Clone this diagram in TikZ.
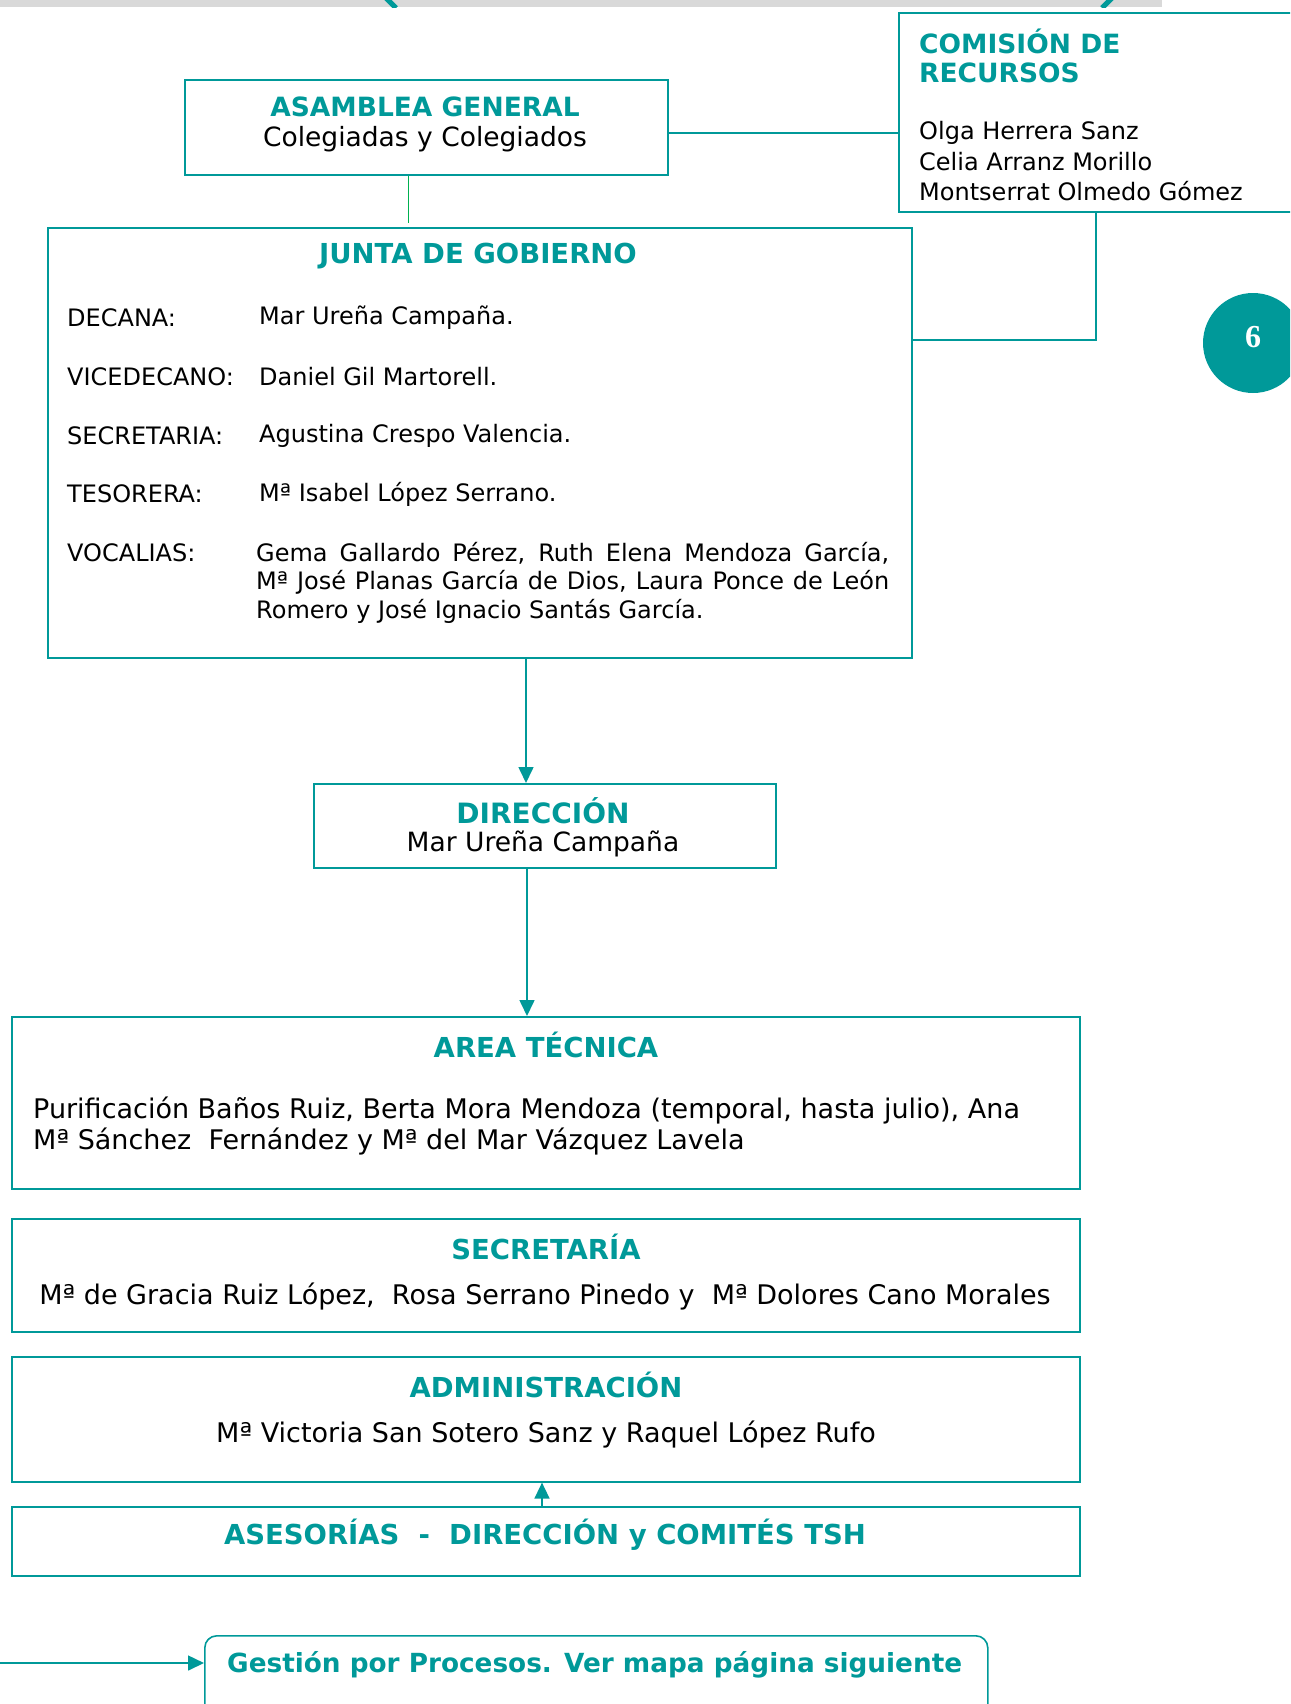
\documentclass[tikz,border=0pt]{standalone}
\usepackage{fontspec}
\setmainfont{DejaVu Sans}
\newfontfamily\numfont{Liberation Serif}
\usetikzlibrary{arrows.meta}
\definecolor{tealc}{RGB}{0,153,153}
\definecolor{grayb}{RGB}{217,217,217}
\definecolor{greenl}{RGB}{0,176,80}
\begin{document}
\begin{tikzpicture}[x=1pt,y=-1pt,
  box/.style={draw=tealc, line width=1.6pt, anchor=north west, inner sep=0pt},
  ttl/.style={text=tealc, font=\fontsize{26.5}{31}\selectfont\bfseries, inner sep=0pt},
  bttl/.style={text=tealc, font=\fontsize{27.5}{32}\selectfont\bfseries, inner sep=0pt},
  txt/.style={text=black, font=\fontsize{26.5}{31}\selectfont, inner sep=0pt},
  btxt/.style={text=black, font=\fontsize{27}{32}\selectfont, inner sep=0pt},
  stxt/.style={text=black, font=\fontsize{24}{29}\selectfont, inner sep=0pt},
  conn/.style={draw=tealc, line width=1.6pt},
  arr/.style={conn, -{Triangle[length=16pt,width=15pt]}}]
\useasboundingbox (0,0) rectangle (1290,1704);
\clip (0,0) rectangle (1290,1704);

% top decoration
\fill[grayb] (0,0) rectangle (1162,7);
\begin{scope}
\clip (0,0) rectangle (1290,7.5);
\draw[tealc, line width=5pt] (384,-4) -- (396,8);
\draw[tealc, line width=5pt] (1114,-4) -- (1102,8);
\end{scope}

% boxes
\node[box, minimum width=483pt, minimum height=95pt] (asamblea) at (184,79) {};
\node[box, minimum width=420pt, minimum height=199pt] (comision) at (898,12) {};
\node[box, minimum width=864pt, minimum height=430pt] (junta) at (47,227) {};
\node[box, minimum width=462pt, minimum height=84pt] (direccion) at (313,783) {};
\node[box, minimum width=1068pt, minimum height=172pt] (area) at (11,1016) {};
\node[box, minimum width=1068pt, minimum height=113pt] (secre) at (11,1218) {};
\node[box, minimum width=1068pt, minimum height=125pt] (admin) at (11,1356) {};
\node[box, minimum width=1068pt, minimum height=69pt] (asesor) at (11,1506) {};
\node[box, rounded corners=12pt, minimum width=783pt, minimum height=110pt] (gestion) at (204,1635) {};

% circle 6
\node[circle, fill=tealc, minimum size=100pt, inner sep=0pt] (pag) at (1253,343) {};
\node[text=white, font=\numfont\fontsize{32}{36}\selectfont\bfseries, inner sep=0pt] (pagn) at (1253,337) {6};

% texts
\node[ttl] (asaT) at (425,107) {ASAMBLEA GENERAL};
\node[txt] (asaS) at (425,139) {Colegiadas y Colegiados};

\node[ttl, anchor=west] (comT1) at (919,41) {COMISIÓN DE};
\node[ttl, anchor=west] (comT2) at (919,73) {RECURSOS};
\node[stxt, anchor=west] (com1) at (919,133) {Olga Herrera Sanz};
\node[stxt, anchor=west] (com2) at (919,162) {Celia Arranz Morillo};
\node[stxt, anchor=west] (com3) at (919,191) {Montserrat Olmedo Gómez};

\node[bttl] (junT) at (478,256) {JUNTA DE GOBIERNO};
\node[stxt, anchor=west] (l1) at (67,318) {DECANA:};
\node[stxt, anchor=west] (n1) at (259,318) {Mar Ureña Campaña.};
\node[stxt, anchor=west] (l2) at (67,377) {VICEDECANO:};
\node[stxt, anchor=west] (n2) at (259,377) {Daniel Gil Martorell.};
\node[stxt, anchor=west] (l3) at (67,436) {SECRETARIA:};
\node[stxt, anchor=west] (n3) at (259,436) {Agustina Crespo Valencia.};
\node[stxt, anchor=west] (l4) at (67,494) {TESORERA:};
\node[stxt, anchor=west] (n4) at (259,494) {Mª Isabel López Serrano.};
\node[stxt, anchor=west] (l5) at (67,553) {VOCALIAS:};
\node[stxt, anchor=west] (v1) at (256,553) {\makebox[633pt][s]{Gema Gallardo Pérez, Ruth Elena Mendoza García,}};
\node[stxt, anchor=west] (v2) at (256,582) {\makebox[633pt][s]{Mª José Planas García de Dios, Laura Ponce de León}};
\node[stxt, anchor=west] (v3) at (256,611) {Romero y José Ignacio Santás García.};

\node[text=tealc, font=\fontsize{28}{32}\selectfont\bfseries, inner sep=0pt] (dirT) at (543,811) {DIRECCIÓN};
\node[txt] (dirS) at (543,844) {Mar Ureña Campaña};

\node[bttl] (areaT) at (546,1045) {AREA TÉCNICA};
\node[btxt, anchor=west] (area1) at (33,1110) {Purificación Baños Ruiz, Berta Mora Mendoza (temporal, hasta julio), Ana};
\node[btxt, anchor=west] (area2) at (33,1141) {Mª Sánchez\ \ Fernández y Mª del Mar Vázquez Lavela};

\node[bttl] (secT) at (546,1247) {SECRETARÍA};
\node[btxt] (secS) at (545,1296) {Mª de Gracia Ruiz López,\ \ Rosa Serrano Pinedo y\ \ Mª Dolores Cano Morales};

\node[bttl] (admT) at (546,1385) {ADMINISTRACIÓN};
\node[btxt] (admS) at (546,1434) {Mª Victoria San Sotero Sanz y Raquel López Rufo};

\node[bttl] (aseT) at (545,1535) {ASESORÍAS\ \ -\ \ DIRECCIÓN y COMITÉS TSH};

\node[text=tealc, font=\fontsize{26.3}{31}\selectfont\bfseries, inner sep=0pt, anchor=west] (gesT) at (227,1665) {Gestión por Procesos. Ver mapa página siguiente};

% connectors
\draw[conn] ([yshift=-5.5pt]asamblea.east) -- ([yshift=-5.5pt]asamblea.east -| comision.west);
\draw[greenl, line width=1.5pt] ([xshift=-18pt]asamblea.south) -- ([xshift=-18pt,yshift=4pt]asamblea.south |- junta.north);
\coordinate (cA) at (1096,340);
\draw[conn] (comision.south -| cA) -- (cA) -- (cA -| junta.east);
\coordinate (dA) at (526,700);
\draw[arr] (junta.south -| dA) -- (direccion.north -| dA);
\coordinate (dB) at (527,900);
\draw[arr] (direccion.south -| dB) -- (area.north -| dB);
\coordinate (dC) at (542,1490);
\draw[arr] (asesor.north -| dC) -- (admin.south -| dC);
\coordinate (gA) at (0,1663);
\draw[arr] (gA) -- (gA -| gestion.west);
\end{tikzpicture}
\end{document}
